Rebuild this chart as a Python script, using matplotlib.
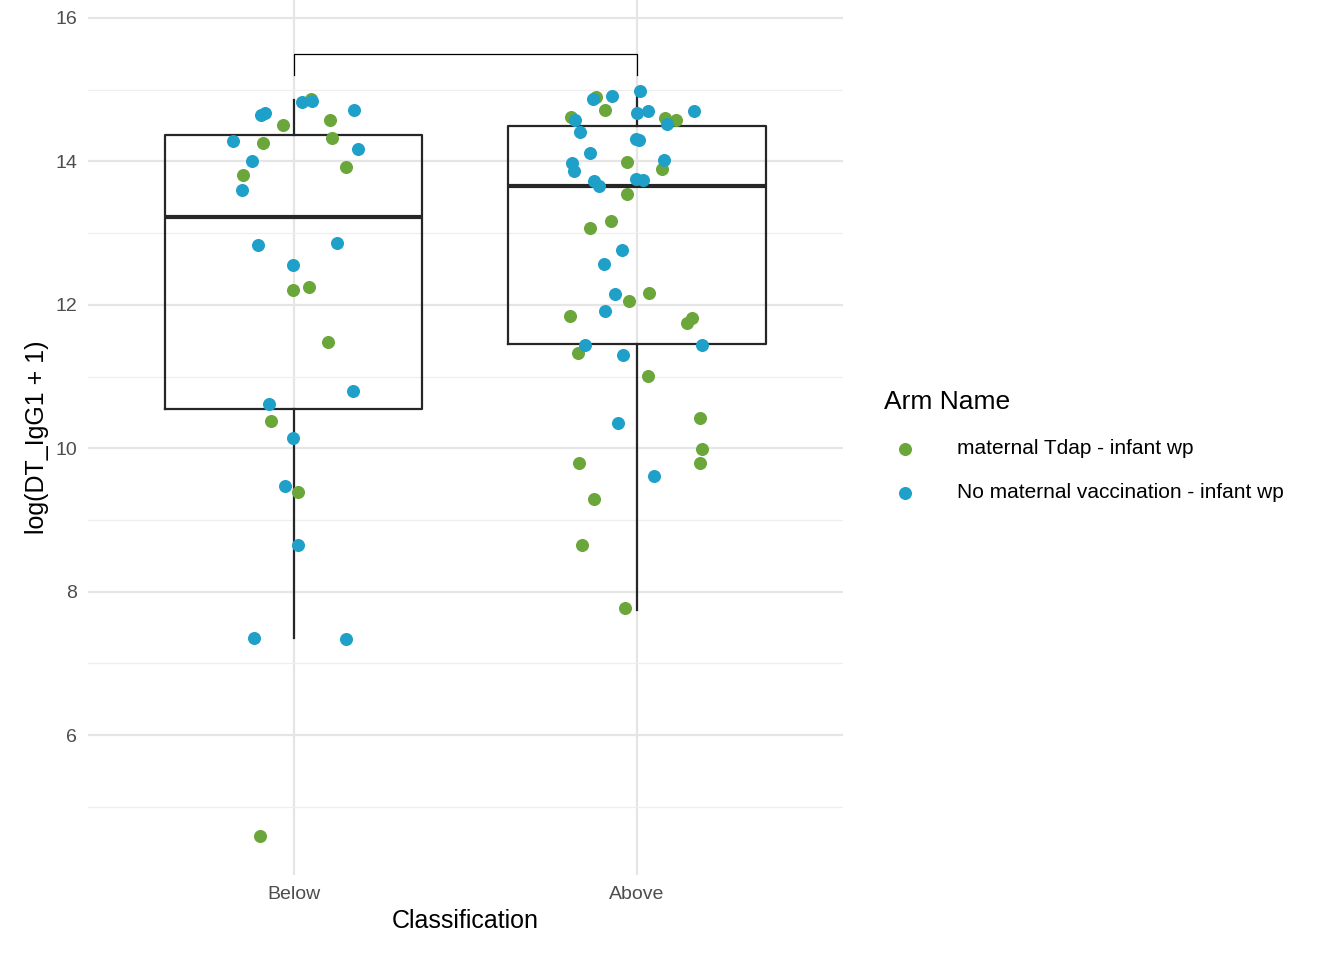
import matplotlib.pyplot as plt

plt.rcParams['font.family'] = ['Liberation Sans', 'DejaVu Sans']

# jittered positions (1 = Below, 2 = Above) and values
below_green_x = [1.049, 0.968, 0.910, 1.105, 1.110, 0.852, 1.151, 1.044, 0.997, 1.099, 0.933, 1.012, 0.901]
below_green_y = [14.87, 14.51, 14.26, 14.58, 14.33, 13.81, 13.92, 12.25, 12.21, 11.48, 10.38, 9.39, 4.59]
below_blue_x = [1.023, 1.052, 0.916, 0.904, 1.174, 0.823, 1.186, 0.878, 0.849, 0.895, 1.125, 0.997,
                0.927, 1.172, 0.997, 0.974, 1.012, 0.884, 1.151]
below_blue_y = [14.83, 14.84, 14.68, 14.65, 14.72, 14.28, 14.17, 14.01, 13.60, 12.83, 12.86, 12.56,
                10.62, 10.80, 10.14, 9.47, 8.65, 7.35, 7.34]
above_green_x = [1.881, 1.907, 1.808, 2.081, 2.113, 1.971, 2.073, 1.971, 1.924, 1.863, 2.035, 1.977,
                 1.805, 2.145, 2.160, 1.828, 2.032, 2.183, 2.189, 1.831, 2.183, 1.875, 1.840, 1.965]
above_green_y = [14.90, 14.72, 14.62, 14.61, 14.58, 13.99, 13.89, 13.55, 13.17, 13.07, 12.16, 12.05,
                 11.84, 11.75, 11.82, 11.33, 11.01, 10.42, 9.99, 9.79, 9.79, 9.29, 8.65, 7.77]
above_blue_x = [2.009, 1.927, 1.872, 2.0, 2.032, 2.166, 1.820, 2.087, 1.834, 1.997, 2.006, 1.811,
                1.863, 2.078, 1.817, 1.875, 1.890, 1.997, 2.017, 1.956, 1.904, 1.936, 1.907, 1.849,
                2.189, 1.959, 1.945, 2.049]
above_blue_y = [14.98, 14.91, 14.87, 14.68, 14.70, 14.70, 14.58, 14.52, 14.41, 14.31, 14.30, 13.98,
                14.12, 14.02, 13.87, 13.73, 13.66, 13.75, 13.74, 12.76, 12.57, 12.15, 11.91, 11.44,
                11.44, 11.30, 10.35, 9.61]

categories = ['Below', 'Above']
box_stats = [
    dict(whislo=7.35, q1=10.55, med=13.22, q3=14.37, whishi=14.85),
    dict(whislo=7.75, q1=11.45, med=13.65, q3=14.50, whishi=15.00),
]

green = '#6aa63a'
blue = '#1fa0c8'
dark = '#262626'

fig = plt.figure(figsize=(13.44, 9.6), dpi=100)
ax = fig.add_axes([0.0655, 0.0885, 0.5615, 0.9115])

ax.set_yticks([6, 8, 10, 12, 14, 16])
ax.set_yticks([5, 7, 9, 11, 13, 15], minor=True)
ax.grid(which='major', color='#e5e5e5', linewidth=1.6)
ax.grid(which='minor', axis='y', color='#eeeeee', linewidth=0.9)
ax.set_axisbelow(True)

for s in box_stats:
    s['fliers'] = []
ax.bxp(box_stats, positions=[1, 2], widths=0.75, showcaps=False, showfliers=False,
       boxprops=dict(color=dark, linewidth=1.6),
       whiskerprops=dict(color=dark, linewidth=1.6),
       medianprops=dict(color=dark, linewidth=3))

ax.scatter(below_green_x, below_green_y, s=70, color=green, zorder=3, label='maternal Tdap - infant wp')
ax.scatter(above_green_x, above_green_y, s=70, color=green, zorder=3)
ax.scatter(below_blue_x, below_blue_y, s=70, color=blue, zorder=3, label='No maternal vaccination - infant wp')
ax.scatter(above_blue_x, above_blue_y, s=70, color=blue, zorder=3)

# significance bracket
ax.plot([1, 1, 2, 2], [15.2, 15.5, 15.5, 15.2], color='black', linewidth=0.9)

ax.set_xlim(0.40, 2.60)
ax.set_ylim(4.05, 16.25)
ax.set_xticks([1, 2])
ax.set_xticklabels(categories)
ax.tick_params(which='both', length=0, labelsize=14, labelcolor='#4d4d4d', pad=8)
for sp in ax.spines.values():
    sp.set_visible(False)
ax.set_xlabel('Classification', fontsize=18)
ax.set_ylabel('log(DT_IgG1 + 1)', fontsize=18)

leg = ax.legend(title='Arm Name', loc='center left', bbox_to_anchor=(1.03, 0.49), frameon=False,
                fontsize=15, title_fontsize=19, handletextpad=1.5, labelspacing=1.2, markerscale=1.0)
leg._legend_box.align = 'left'

fig.savefig('out.png', dpi=100)
